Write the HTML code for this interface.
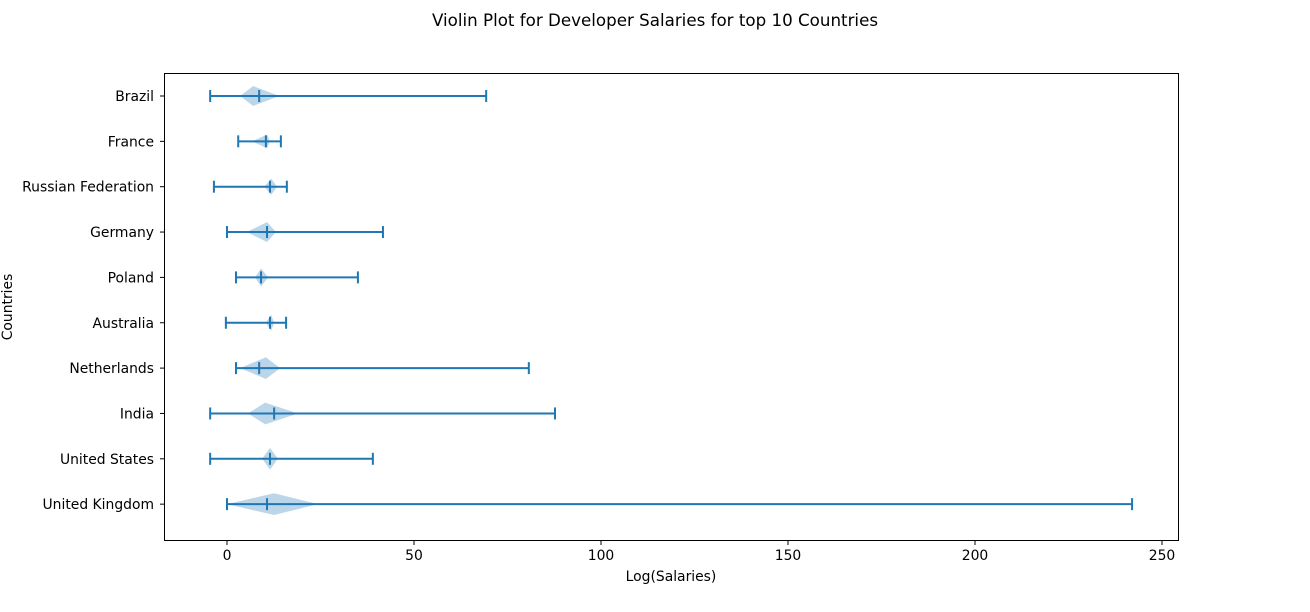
<!DOCTYPE html>
<html><head><meta charset="utf-8"><style>
body{margin:0;background:#fff;}
svg text{font-family:"DejaVu Sans","Liberation Sans",sans-serif;fill:#000;}
</style></head><body>
<svg id="chart" width="1310" height="607" xmlns="http://www.w3.org/2000/svg">
<text x="655" y="26" font-size="16.7" text-anchor="middle">Violin Plot for Developer Salaries for top 10 Countries</text>
<g id="plot"></g>
<rect x="164.5" y="73.5" width="1014" height="467" fill="none" stroke="#000" stroke-width="1"/>
<text x="671" y="581" font-size="13.9" text-anchor="middle">Log(Salaries)</text>
<text transform="translate(12,307) rotate(-90)" font-size="13.9" text-anchor="middle">Countries</text>
</svg>
<script>
const countries=["Brazil","France","Russian Federation","Germany","Poland","Australia","Netherlands","India","United States","United Kingdom"];
const mins=[-4.5,3,-3.5,0,2.4,-0.3,2.4,-4.5,-4.5,0];
const maxs=[69.3,14.4,16,41.7,35,15.8,80.7,87.7,39,242];
const medians=[8.6,10.4,11.5,10.7,9.1,11.5,8.6,12.6,11.5,10.7];
const violinLeft=[3.5,6.7,10,5.3,7.5,10.4,3.5,5.6,9.4,0];
const violinPeak=[7,10.7,11.8,10.7,9.1,11.8,10.4,10.2,11.5,12.6];
const violinRight=[14,11.5,13.4,13.1,11,12.6,14.2,19,13.6,24.3];
const violinWidth=[0.22,0.15,0.18,0.22,0.2,0.18,0.24,0.24,0.24,0.24];
const xTicks=[0,50,100,150,200,250];
const NS="http://www.w3.org/2000/svg";
const g=document.getElementById('plot');
const svg=document.getElementById('chart');
function xs(v){return 227+v*3.74;}
function ys(i){return 96+i*45.35;}
const C="#1f77b4";
function mk(t,a){const e=document.createElementNS(NS,t);for(const k in a)e.setAttribute(k,a[k]);return e;}
xTicks.forEach(t=>{
  const l=mk('line',{x1:xs(t),x2:xs(t),y1:540.5,y2:545,stroke:'#000'});
  
  
  svg.appendChild(l);
  const tx=mk('text',{x:xs(t),y:560,'font-size':13.9,'text-anchor':'middle'});
  tx.textContent=t;
  
  
  svg.appendChild(tx);
});
countries.forEach((c,i)=>{
  const y=ys(i);
  const hw=violinWidth[i]*45.35;
  const v=mk('polygon',{points:`${xs(violinLeft[i])},${y} ${xs(violinPeak[i])},${y-hw} ${xs(violinRight[i])},${y} ${xs(violinPeak[i])},${y+hw}`,fill:C,'fill-opacity':0.3});
  
  
  g.appendChild(v);
  const l=mk('line',{x1:xs(mins[i]),x2:xs(maxs[i]),y1:y,y2:y,stroke:C,'stroke-width':2});
  
  
  g.appendChild(l);
  [mins[i],maxs[i]].forEach(val=>{
    const cap=mk('line',{x1:xs(val),x2:xs(val),y1:y-6,y2:y+6,stroke:C,'stroke-width':2});
    
    
    g.appendChild(cap);
  });
  const m=mk('line',{x1:xs(medians[i]),x2:xs(medians[i]),y1:y-6,y2:y+6,stroke:C,'stroke-width':2});
  
  
  g.appendChild(m);
  const tk=mk('line',{x1:160,x2:164.5,y1:y,y2:y,stroke:'#000'});
  
  
  svg.appendChild(tk);
  const tx=mk('text',{x:154,y:y+5,'font-size':13.9,'text-anchor':'end'});
  tx.textContent=c;
  
  
  svg.appendChild(tx);
});
</script>
</body></html>
